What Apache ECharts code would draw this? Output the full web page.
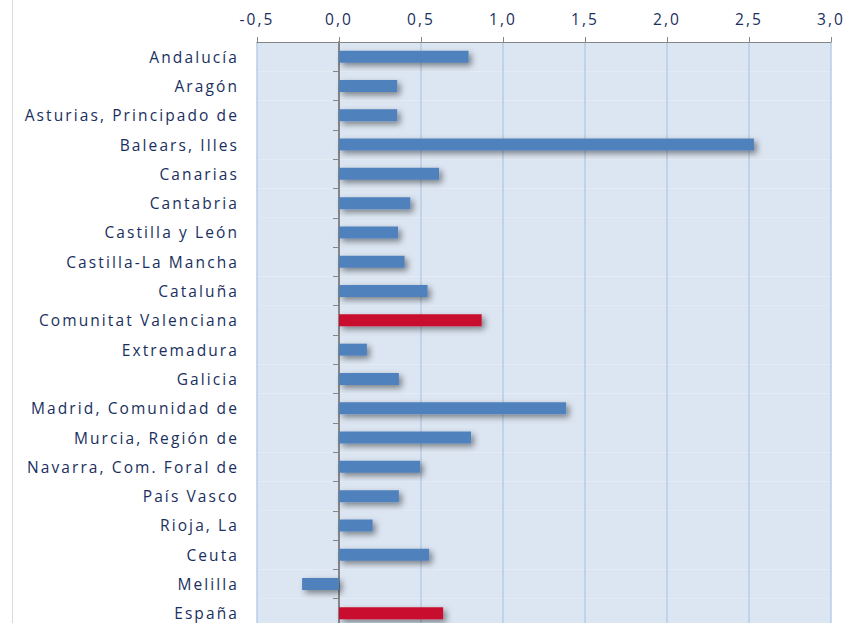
<!DOCTYPE html>
<html>
<head>
<meta charset="utf-8">
<script src="https://cdn.jsdelivr.net/npm/echarts@6/dist/echarts.min.js"></script>
<style>
  html, body { margin: 0; padding: 0; background: #fff; }
  #chart { width: 845px; height: 623px; }
  #chart text { letter-spacing: 2.1px; }
  #edge { position: absolute; left: 12px; top: 0; width: 1px; height: 623px; background: #d9d9d9; }
</style>
</head>
<body>
<div id="edge"></div>
<div id="chart"></div>
<script>
const regions = [
  'Andalucía', 'Aragón', 'Asturias, Principado de', 'Balears, Illes', 'Canarias',
  'Cantabria', 'Castilla y León', 'Castilla-La Mancha', 'Cataluña', 'Comunitat Valenciana',
  'Extremadura', 'Galicia', 'Madrid, Comunidad de', 'Murcia, Región de', 'Navarra, Com. Foral de',
  'País Vasco', 'Rioja, La', 'Ceuta', 'Melilla', 'España'
]
const values = [
  0.79, 0.355, 0.355, 2.53, 0.61,
  0.435, 0.36, 0.40, 0.54, 0.87,
  0.17, 0.365, 1.385, 0.805, 0.495,
  0.365, 0.205, 0.55, -0.225, 0.635
]
const highlighted = ['Comunitat Valenciana', 'España']

const blue = '#4f81bd'
const red = '#c8102e'
const labelColor = '#1a2f5e'

// svg renderer so the wide letter spacing of the original labels can come from css
const chart = echarts.init(document.getElementById('chart'), null, { renderer: 'svg' })

chart.setOption({
  animation: false,
  textStyle: { fontFamily: 'Open Sans, sans-serif' },
  grid: { left: 257, right: 14, top: 42, bottom: -5, outerBoundsMode: 'none', containLabel: false },
  xAxis: {
    type: 'value',
    position: 'top',
    min: -0.5,
    max: 3,
    interval: 0.5,
    axisLine: { show: true, lineStyle: { color: '#868686', width: 1 } },
    axisTick: { show: true, length: 5, lineStyle: { color: '#868686' } },
    axisLabel: {
      color: labelColor,
      fontSize: 15.5,
      margin: 15,
      formatter: (v) => v.toFixed(1).replace('.', ',')
    },
    splitLine: { show: true, lineStyle: { color: '#b8cce4', width: 1.5 } }
  },
  yAxis: {
    type: 'category',
    data: regions,
    inverse: true,
    axisLine: { show: true, onZero: true, lineStyle: { color: '#868686', width: 2 } },
    axisTick: { show: true, length: 6, lineStyle: { color: '#868686' } },
    axisLabel: { color: labelColor, fontSize: 15.5, margin: 18 },
    splitArea: { show: true, areaStyle: { color: ['#dce6f2'] } }
  },
  series: [
    {
      type: 'bar',
      barWidth: 12,
      data: values.map((v, i) => ({
        value: v,
        itemStyle: { color: highlighted.includes(regions[i]) ? red : blue }
      })),
      itemStyle: {
        shadowColor: 'rgba(0,0,0,0.45)',
        shadowBlur: 6,
        shadowOffsetX: 3,
        shadowOffsetY: 3
      }
    }
  ]
})
</script>
</body>
</html>
